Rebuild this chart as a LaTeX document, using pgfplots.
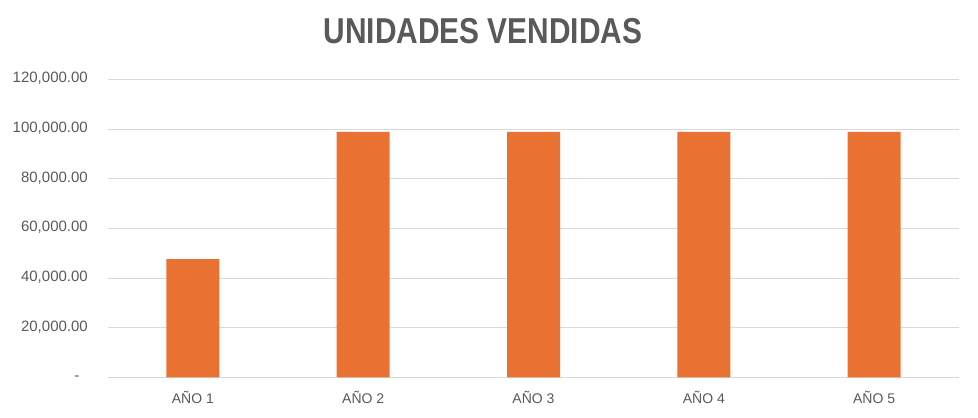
\documentclass[border=0pt]{standalone}
\usepackage{pgfplots}
\pgfplotsset{compat=1.18}
\usepackage{fontspec}
\setmainfont{Liberation Sans}
\newfontfamily\titlefont[FakeStretch=0.83]{Liberation Sans}
\definecolor{barorange}{HTML}{E97132}
\definecolor{txtgray}{HTML}{595959}
\definecolor{gridgray}{HTML}{D9D9D9}
\begin{document}
\begin{tikzpicture}
\path[use as bounding box] (0,0) rectangle (978bp,418bp);
\node[anchor=base, inner sep=0, text=txtgray, font=\titlefont\fontsize{36bp}{40bp}\selectfont\bfseries] at (483bp,374bp) {UNIDADES VENDIDAS};
\begin{axis}[
  at={(107.7bp,40.7bp)}, anchor=south west,
  scale only axis, width=851.6bp, height=298bp,
  xmin=0.5, xmax=5.5, ymin=0, ymax=120000,
  scaled y ticks=false,
  axis x line*=bottom,
  axis y line*=left,
  x axis line style={draw=gridgray, line width=0.75pt, -},
  y axis line style={draw=none},
  ytick={0,20000,40000,60000,80000,100000,120000},
  yticklabels={-\hphantom{0},{20,000.00},{40,000.00},{60,000.00},{80,000.00},{100,000.00},{120,000.00}},
  xtick={1,2,3,4,5},
  xticklabels={AÑO 1,AÑO 2,AÑO 3,AÑO 4,AÑO 5},
  major tick length=0pt,
  ymajorgrids, grid style={draw=gridgray, line width=0.75pt},
  tick label style={text=txtgray, font=\fontsize{14bp}{16bp}\selectfont, inner sep=0pt},
  yticklabel style={anchor=base east, xshift=-19.7bp, yshift=-0.36em, font=\fontsize{15bp}{17bp}\selectfont},
  xticklabel style={anchor=base, yshift=-25.7bp},
  ybar, bar width=53bp,
  clip=false,
]
\addplot[fill=barorange, draw=none] coordinates {(1,47600) (2,98800) (3,98800) (4,98800) (5,98800)};
\end{axis}
\end{tikzpicture}
\end{document}
